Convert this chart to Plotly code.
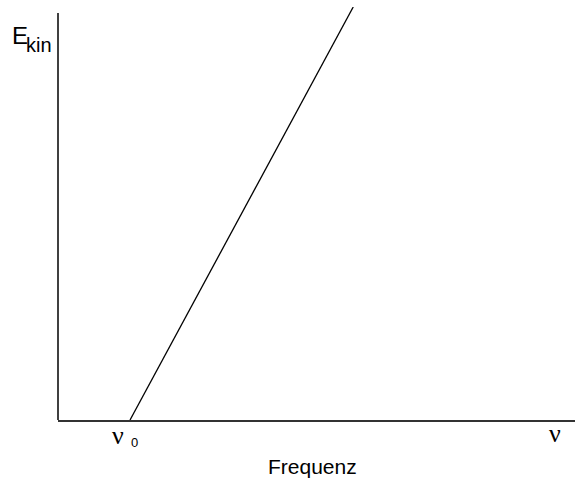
import plotly.graph_objects as go

# data (arbitrary units)
frequency = [1.0, 4.1]      # threshold frequency nu0 -> end of line
energy = [0.0, 1.0]         # kinetic energy
nu0 = 1.0
x_max = 7.18
y_label_main = "E"
y_label_sub = "kin"
x_title = "Frequenz"

W, H = 575, 479
L, T, B = 58, 7, 59
PH = H - T - B


def py(p):
    return (H - B - p) / PH


def px(p):
    return (p - L) / (W - L)


fig = go.Figure()
fig.add_trace(go.Scatter(x=frequency, y=energy, mode="lines",
                         line=dict(color="black", width=1.3),
                         hoverinfo="skip", showlegend=False))

sans = "Liberation Sans Narrow, Arial Narrow, Liberation Sans, sans-serif"
serif = "Liberation Serif, Times New Roman, serif"

fig.update_layout(
    width=W, height=H,
    margin=dict(l=L, r=0, t=T, b=B),
    plot_bgcolor="white", paper_bgcolor="white",
    xaxis=dict(range=[0, x_max], showgrid=False, zeroline=False,
               showticklabels=False, ticks="", showline=True,
               linecolor="#333", linewidth=1.5, fixedrange=True),
    yaxis=dict(range=[0, 1.0], showgrid=False, zeroline=False,
               showticklabels=False, ticks="", showline=False, fixedrange=True),
    showlegend=False,
    shapes=[dict(type="line", xref="paper", yref="paper",
                 x0=0, x1=0, y0=0, y1=py(13),
                 line=dict(color="black", width=1.5))],
    annotations=[
        dict(text=y_label_main, xref="paper", yref="paper", x=px(20), y=py(36),
             xanchor="center", yanchor="middle", showarrow=False,
             font=dict(family=sans, size=24, color="black")),
        dict(text=y_label_sub, xref="paper", yref="paper", x=px(39), y=py(45),
             xanchor="center", yanchor="middle", showarrow=False,
             font=dict(family=sans, size=20, color="black")),
        dict(text="ν", xref="x", yref="paper", x=nu0, y=py(435), xshift=-12,
             xanchor="center", yanchor="middle", showarrow=False,
             font=dict(family=serif, size=26, color="black")),
        dict(text="0", xref="x", yref="paper", x=nu0, y=py(443), xshift=4,
             xanchor="center", yanchor="middle", showarrow=False,
             font=dict(family=sans, size=13, color="black")),
        dict(text="ν", xref="paper", yref="paper", x=px(555), y=py(434),
             xanchor="center", yanchor="middle", showarrow=False,
             font=dict(family=serif, size=26, color="black")),
        dict(text=x_title, xref="paper", yref="paper", x=px(312), y=py(466),
             xanchor="center", yanchor="middle", showarrow=False,
             font=dict(family=sans, size=21, color="black")),
    ],
)
fig.write_html("out.html", config={"displayModeBar": False},
               post_script="document.body.style.margin='0';document.body.style.padding='0';")
